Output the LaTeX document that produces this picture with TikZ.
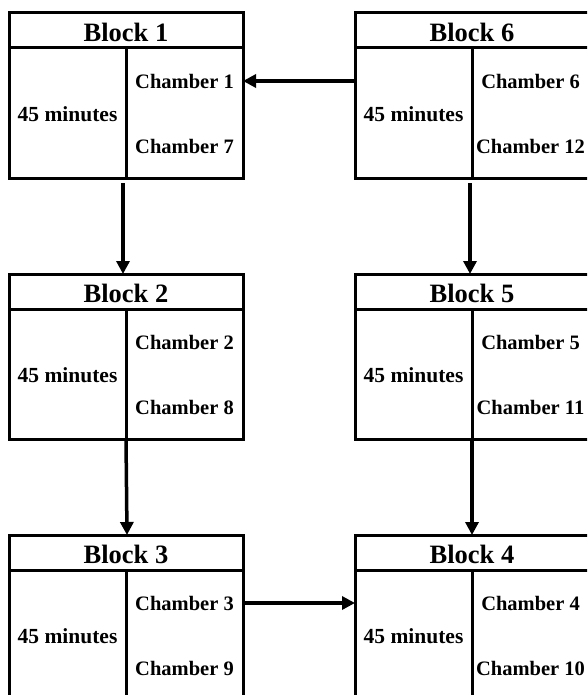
\documentclass[tikz,border=0pt]{standalone}
\usepackage{fontspec}
\setmainfont{Liberation Serif}
\usetikzlibrary{arrows.meta,calc}
\tikzset{
  blockbox/.style={draw, line width=3pt, minimum width=234pt, minimum height=165pt, inner sep=0pt, outer sep=0pt},
  sepline/.style={line width=3pt},
  titletext/.style={font=\fontsize{26.5}{30}\selectfont\bfseries, inner sep=0pt},
  bodytext/.style={font=\fontsize{20.5}{24}\selectfont\bfseries, inner sep=0pt},
  minstext/.style={font=\fontsize{21.5}{24}\selectfont\bfseries, inner sep=0pt},
  arr/.style={line width=3.5pt, -{Triangle[length=13pt,width=13pt]}},
}
\begin{document}
\begin{tikzpicture}[x=1pt,y=-1pt]
\useasboundingbox (0,0) rectangle (587,695);
\clip (0,0) rectangle (587,695);
% blocks: name, left, top, number, chamber a, chamber b
\foreach \nm/\lx/\ty/\num/\ca/\cb in {b1/9/13/1/1/7, b2/9/274/2/2/8, b3/9/535/3/3/9, b6/355/13/6/6/12, b5/355/274/5/5/11, b4/355/535/4/4/10}{
  \node[blockbox] (\nm) at (\lx+117, \ty+82.5) {};
  \coordinate (\nm h) at (\lx, \ty+35);
  \draw[sepline] (\nm.west |- \nm h) -- (\nm.east |- \nm h);
  \draw[sepline] (\nm.north |- \nm h) -- (\nm.south);
  \node[titletext] (\nm t) at (\lx+117, \ty+19) {Block \num};
  \node[minstext] (\nm m) at (\lx+58.5, \ty+101) {45 minutes};
  \node[bodytext] (\nm a) at (\lx+175.5, \ty+68) {Chamber \ca};
  \node[bodytext] (\nm b) at (\lx+175.5, \ty+133) {Chamber \cb};
}
\draw[arr] (b6.west |- b1a) -- (b1.east |- b1a);
\draw[arr] (b3.east |- b3a) -- (b4.west |- b3a);
\draw[arr] ($(b1.south)+(-3,5)$) -- ($(b2.north)+(-3,0)$);
\draw[arr] ($(b2.south)+(0,0)$) -- ($(b3.north)+(1,0)$);
\draw[arr] ($(b6.south)+(-2,5)$) -- ($(b5.north)+(-2,0)$);
\draw[arr] ($(b5.south)+(0,0)$) -- ($(b4.north)+(0,0)$);
\end{tikzpicture}
\end{document}
